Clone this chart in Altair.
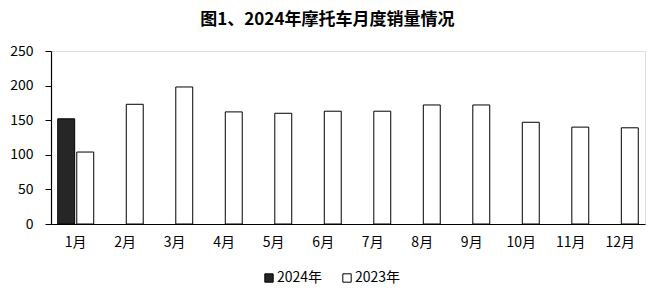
import altair as alt
import pandas as pd

months = ["1月", "2月", "3月", "4月", "5月", "6月", "7月", "8月", "9月", "10月", "11月", "12月"]
sales_2023 = [104, 173, 198, 162, 160, 163, 163, 172, 172, 147, 140, 139]
sales_2024 = [152]
series = ["2024年", "2023年"]

rows = []
for m, v in zip(months, sales_2024):
    rows.append({"month": m, "year": "2024年", "value": v})
for m, v in zip(months, sales_2023):
    rows.append({"month": m, "year": "2023年", "value": v})
df = pd.DataFrame(rows)

FONT = "Noto Sans CJK SC"

chart = alt.Chart(df).mark_bar(stroke="black", strokeWidth=1).encode(
    x=alt.X("month:N", sort=months,
            scale=alt.Scale(paddingInner=0.273, paddingOuter=0.136),
            axis=alt.Axis(title=None, labelAngle=0, ticks=False, labelPadding=11,
                          labelFont=FONT, labelFontSize=14, labelColor="#000",
                          domainColor="#000", domainWidth=1.2)),
    xOffset=alt.XOffset("year:N", sort=series,
                        scale=alt.Scale(domain=series, paddingInner=0.11, paddingOuter=0)),
    y=alt.Y("value:Q",
            scale=alt.Scale(domain=[0, 250]),
            axis=alt.Axis(title=None, values=[0, 50, 100, 150, 200, 250], grid=False,
                          tickSize=6, tickColor="#000", labelPadding=12,
                          labelFont=FONT, labelFontSize=14, labelColor="#000",
                          domainColor="#000", domainWidth=1.2)),
    fill=alt.Fill("year:N", sort=series,
                  scale=alt.Scale(domain=series, range=["#262626", "#ffffff"]),
                  legend=alt.Legend(title=None, orient="none", direction="horizontal",
                                    legendX=211, legendY=220,
                                    symbolType="square", symbolSize=70,
                                    symbolStrokeColor="black", symbolStrokeWidth=1,
                                    labelFont=FONT, labelFontSize=14, labelColor="#000",
                                    labelOffset=1, columnPadding=17)),
).properties(
    width=594,
    height=173,
    title=alt.TitleParams("图1、2024年摩托车月度销量情况", font=FONT, fontSize=17,
                          fontWeight="bold", color="#000", anchor="middle",
                          frame="bounds", offset=15),
    autosize=alt.AutoSizeParams(type="none"),
    padding={"left": 51, "top": 51, "right": 10, "bottom": 68},
).configure_view(stroke=None).configure(background="white")

chart.save("out.html", embed_options={"renderer": "svg", "actions": False})
